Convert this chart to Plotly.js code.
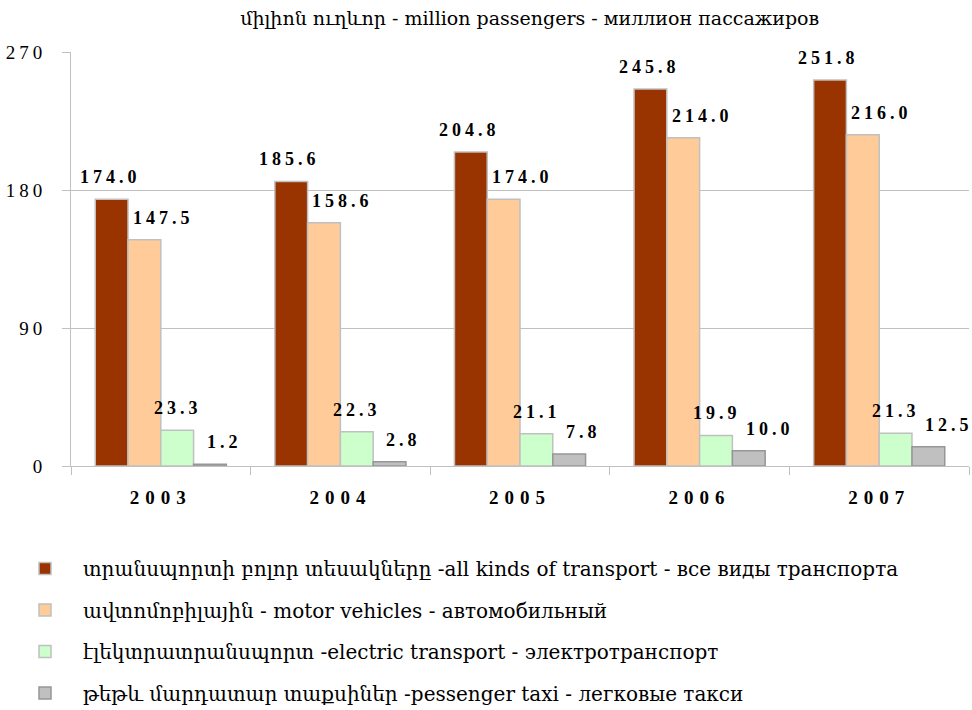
<!DOCTYPE html>
<html>
<head>
<meta charset="utf-8">
<script src="https://cdn.plot.ly/plotly-3.0.1.min.js"></script>
<style>
  html, body { margin: 0; padding: 0; background: #fff; }
  #chart { width: 972px; height: 710px; }
  .main-svg text { font-family: 'Liberation Serif', 'DejaVu Serif', serif !important; }
  .main-svg text.gtitle, .main-svg text.legendtext { font-family: 'DejaVu Serif', 'Liberation Serif', serif !important; }
  .ytick text { letter-spacing: 4px; }
  .xtick text { letter-spacing: 6px; }
  .annotation-text { letter-spacing: 4px; }
</style>
</head>
<body>
<div id="chart"></div>
<script>
// ---- data ----
const years = ['2003', '2004', '2005', '2006', '2007'];
const allKinds = [174.0, 185.6, 204.8, 245.8, 251.8];
const motorVehicles = [147.5, 158.6, 174.0, 214.0, 216.0];
const electricTransport = [23.3, 22.3, 21.1, 19.9, 21.3];
const passengerTaxi = [1.2, 2.8, 7.8, 10.0, 12.5];
const seriesNames = [
  'տրանսպորտի բոլոր տեսակները -all kinds of transport - все виды транспорта',
  'ավտոմոբիլային - motor vehicles - автомобильный',
  'էլեկտրատրանսպորտ -electric transport - электротранспорт',
  'թեթև մարդատար տաքսիներ -pessenger taxi - легковые такси'
];
const yTicks = [0, 90, 180, 270];
const titleText = 'միլիոն ուղևոր - million passengers - миллион пассажиров';

// ---- styles ----
const seriesValues = [allKinds, motorVehicles, electricTransport, passengerTaxi];
const fills = ['#993300', '#FFCC99', '#CCFFCC', '#C0C0C0'];
const outlines = ['#C0C0C0', '#C0C0C0', '#C0C0C0', '#969696'];
const labelShift = [-83, -30, -9, 44];
const serif = 'Liberation Serif';
const wideSerif = 'DejaVu Serif';

const traces = seriesValues.map((vals, i) => ({
  type: 'bar',
  name: seriesNames[i],
  x: years,
  y: vals,
  legendgroup: 'g' + i,
  marker: { color: fills[i], line: { color: outlines[i], width: 1.5 } },
  hoverinfo: 'x+y'
}));

const annotations = [];
seriesValues.forEach((vals, i) => {
  vals.forEach((v, j) => {
    annotations.push({
      xref: 'x', yref: 'y', x: j, y: v,
      text: v.toFixed(1), showarrow: false,
      xanchor: 'left', yanchor: 'bottom',
      xshift: labelShift[i], yshift: 10,
      font: { family: serif, size: 18, color: '#000', weight: 'bold' }
    });
  });
});

const layout = {
  width: 972, height: 710,
  margin: { l: 71, r: 3, t: 51.5, b: 244, autoexpand: false },
  paper_bgcolor: '#fff', plot_bgcolor: '#fff',
  barmode: 'group', bargap: 0.27, bargroupgap: 0,
  title: {
    text: titleText, xref: 'container', yref: 'container',
    x: 0.545, xanchor: 'center', y: 1 - 18 / 710, yanchor: 'middle',
    font: { family: wideSerif, size: 19, color: '#000' }
  },
  xaxis: {
    type: 'category', range: [-0.5, years.length - 0.5],
    showline: true, linecolor: '#C0C0C0', linewidth: 1,
    ticks: 'outside', tickson: 'boundaries', ticklen: 8, tickcolor: '#C0C0C0',
    showgrid: false, tickangle: 0,
    ticklabelstandoff: 14,
    tickfont: { family: serif, size: 19, color: '#000', weight: 'bold' }
  },
  yaxis: {
    range: [0, 270], tickvals: yTicks, ticktext: yTicks.map(String),
    showline: true, linecolor: '#C0C0C0', linewidth: 1,
    ticks: 'outside', ticklen: 8, tickcolor: '#C0C0C0',
    showgrid: true, gridcolor: '#C0C0C0', gridwidth: 1,
    zeroline: false,
    ticklabelstandoff: 12,
    tickfont: { family: serif, size: 19, color: '#000' }
  },
  showlegend: true,
  legend: {
    orientation: 'v', xref: 'container', yref: 'container',
    x: 7 / 972, xanchor: 'left', y: 1 - 549 / 710, yanchor: 'top',
    traceorder: 'grouped', tracegroupgap: 12.5, itemwidth: 66,
    font: { family: wideSerif, size: 20, color: '#000' },
    bgcolor: 'rgba(0,0,0,0)'
  },
  annotations: annotations
};

Plotly.newPlot('chart', traces, layout, { displayModeBar: false, staticPlot: true });
</script>
</body>
</html>
